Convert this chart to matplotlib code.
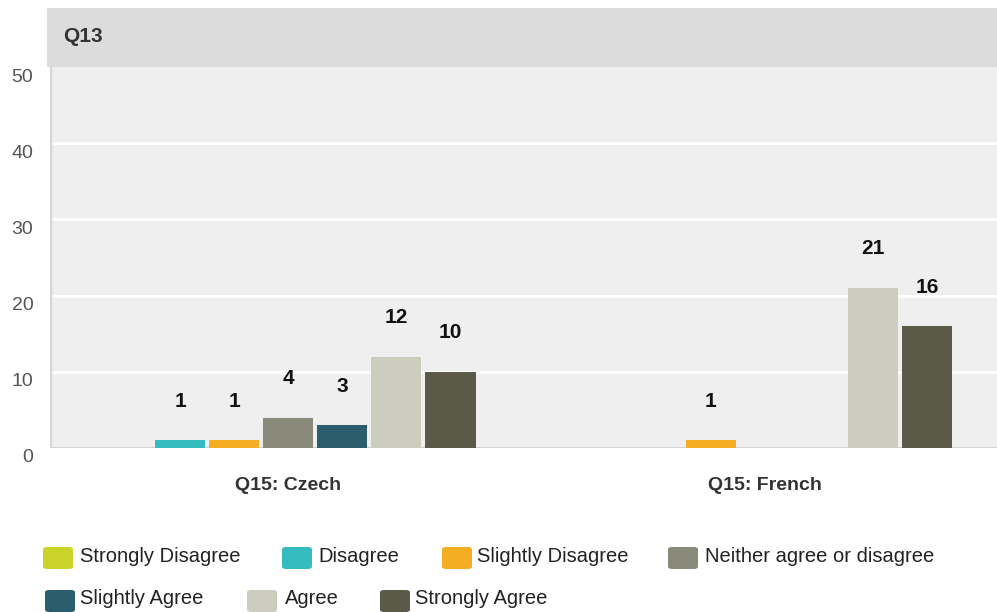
import matplotlib
matplotlib.use("Agg")
import matplotlib.pyplot as plt
from matplotlib.patches import FancyBboxPatch
from matplotlib.transforms import ScaledTranslation

plt.rcParams['font.family'] = ['Liberation Sans', 'DejaVu Sans']

panel_title = "Q13"
groups = ["Q15: Czech", "Q15: French"]
categories = ["Strongly Disagree", "Disagree", "Slightly Disagree",
              "Neither agree or disagree", "Slightly Agree", "Agree",
              "Strongly Agree"]
colors = ["#c9d32a", "#35bcc0", "#f5ae22", "#898a79", "#2c5d6f",
          "#cdcdbf", "#5b5a49"]
czech = [0, 1, 1, 4, 3, 12, 10]
french = [0, 0, 1, 0, 0, 21, 16]
yticks = [0, 10, 20, 30, 40, 50]

W, H = 997, 612
fig = plt.figure(figsize=(W / 100, H / 100), dpi=100)
fig.patch.set_facecolor("white")

def fx(px):
    return px / W

def fy(py):
    return 1 - py / H

# plotting panel
left_px, right_px, top_px, bottom_px = 50, 1003, 67, 448
ax = fig.add_axes([fx(left_px), fy(bottom_px), fx(right_px - left_px),
                   (bottom_px - top_px) / H])
ax.set_facecolor("#efefef")
ax.set_ylim(0, 50)
ax.set_xlim(-0.5, 1.5)

slot = 0.1135
bar_w = 0.105
series = [czech, french]
for gi, vals in enumerate(series):
    for k, v in enumerate(vals):
        if v == 0:
            continue
        x = gi + (k - 3) * slot
        ax.bar(x, v, width=bar_w, color=colors[k], zorder=3)
        ax.annotate(str(v), (x, v), xytext=(0, 39), textcoords="offset pixels",
                    ha="center", va="center", fontsize=15, fontweight="bold",
                    color="#111111", zorder=4)

# white gridlines inside the panel (the top one sits under the strip)
for t in yticks[1:-1]:
    ax.axhline(t, color="white", lw=2, zorder=1)
ax.axhline(0, color="#cfcfcf", lw=2, zorder=2)
ax.axvline(-0.5, color="#d6d6d6", lw=2.5, zorder=2)

ax.set_yticks(yticks)
ax.set_yticklabels([str(t) for t in yticks])
ax.tick_params(axis="y", length=0, labelsize=14, labelcolor="#555555", pad=12)
shift_down = ScaledTranslation(0, -8 / 100, fig.dpi_scale_trans)
for lbl in ax.get_yticklabels():
    lbl.set_transform(lbl.get_transform() + shift_down)
ax.set_xticks(range(len(groups)))
ax.set_xticklabels(groups)
ax.tick_params(axis="x", length=0, labelsize=14, labelcolor="#333333", pad=21)
for lbl in ax.get_xticklabels():
    lbl.set_fontweight("bold")
for s in ax.spines.values():
    s.set_visible(False)

# strip header
hax = fig.add_axes([fx(left_px - 3), fy(67), fx(right_px - left_px + 3), 59 / H])
hax.set_facecolor("#dcdcdc")
hax.set_xticks([])
hax.set_yticks([])
for s in hax.spines.values():
    s.set_visible(False)
fig.text(fx(63), fy(37), panel_title, fontsize=15, fontweight="bold",
         color="#333333", ha="left", va="center")

# legend
legend_rows = [
    [(43, 80), (282, 318), (442, 477), (668, 705)],
    [(45, 80), (247, 285), (380, 415)],
]
row_y = [558, 601]
k = 0
for r, row in enumerate(legend_rows):
    for sq_x, tx in row:
        cy = row_y[r]
        box = FancyBboxPatch((fx(sq_x), fy(cy + 11)), fx(30), 22 / H,
                             boxstyle="round,pad=0,rounding_size=0.004",
                             transform=fig.transFigure, facecolor=colors[k],
                             edgecolor="none")
        fig.add_artist(box)
        fig.text(fx(tx), fy(cy - 2), categories[k], fontsize=14.5,
                 color="#222222", ha="left", va="center")
        k += 1

fig.savefig("out.png", dpi=100, facecolor="white")
